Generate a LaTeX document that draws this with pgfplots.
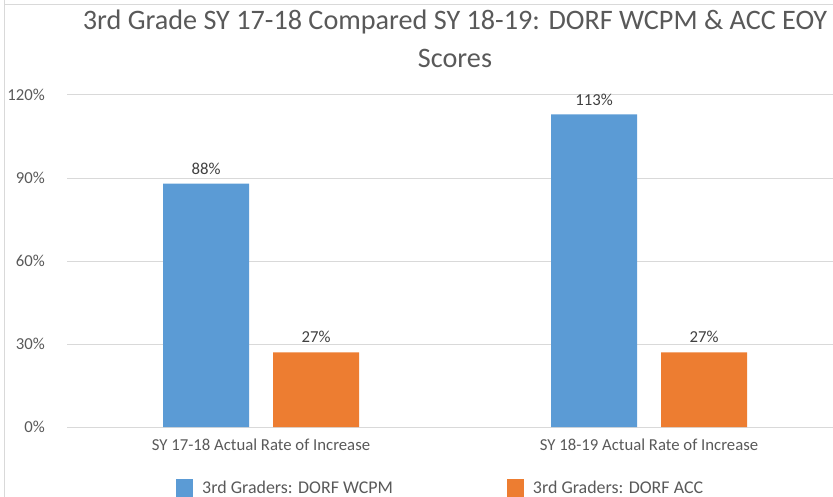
\documentclass[border=0pt]{standalone}
\usepackage{pgfplots}
\pgfplotsset{compat=1.18}
\usepackage{fontspec}
\setmainfont{Carlito}
\definecolor{cblue}{HTML}{5B9BD5}
\definecolor{corange}{HTML}{ED7D31}
\definecolor{txt}{HTML}{595959}
\definecolor{lbl}{HTML}{404040}
\definecolor{gridc}{HTML}{D9D9D9}
\begin{document}
\begin{tikzpicture}[x=1bp,y=1bp]
\path[use as bounding box] (0,0) rectangle (833,-497);
\clip (0,0) rectangle (833,-497);
\draw[color=gridc, line width=1bp] (4.5,0) -- (4.5,-497);
\draw[color=gridc, line width=1bp] (4.5,-5) -- (833,-5);
\begin{axis}[
  at={(67bp,-427bp)}, anchor=south west,
  scale only axis, width=776bp, height=332bp,
  xmin=-0.5, xmax=1.5, ymin=0, ymax=120,
  ybar=24bp, bar width=86bp,
  xtick={0,1},
  xticklabels={SY 17-18 Actual Rate of Increase, SY 18-19 Actual Rate of Increase},
  ytick={0,30,60,90,120},
  yticklabel={\pgfmathprintnumber{\tick}\%},
  /pgf/number format/assume math mode=true,
  ymajorgrids, grid style={color=gridc, line width=1bp},
  axis line style={draw=none},
  major tick length=0pt,
  tick label style={font=\fontsize{16.8}{19}\selectfont, text=txt},
  yticklabel style={anchor=east, inner sep=0pt, xshift=-22bp},
  xticklabel style={anchor=north, inner sep=0pt, yshift=-12bp},
  nodes near coords={\pgfmathprintnumber{\pgfplotspointmeta}\%},
  nodes near coords style={font=\fontsize{16.8}{19}\selectfont, text=lbl, inner sep=0pt, anchor=south, yshift=9bp},
  clip=false,
  title={3rd Grade SY 17-18 Compared SY 18-19: DORF WCPM \& ACC EOY\\[3bp]Scores},
  title style={at={(0.5,1)}, font=\fontsize{28.3}{35}\selectfont, text=txt, align=center, anchor=south, inner sep=0pt, yshift=21bp},
  legend columns=2,
  legend style={at={(rel axis cs:0.1405,-0.1566)}, anchor=north west, draw=none, fill=none, inner sep=0pt,
    font=\fontsize{18}{20}\selectfont, text=txt,
    nodes={inner sep=0pt},
    /tikz/every odd column/.append style={column sep=9bp},
    /tikz/every even column/.append style={column sep=114bp}},
  legend image code/.code={\fill[#1] (0bp,-9bp) rectangle (17bp,9bp);},
]
\addplot[fill=cblue, draw=none] coordinates {(0,88) (1,113)};
\addplot[fill=corange, draw=none] coordinates {(0,27) (1,27)};
\legend{3rd Graders: DORF WCPM, 3rd Graders: DORF ACC}
\end{axis}
\end{tikzpicture}
\end{document}
